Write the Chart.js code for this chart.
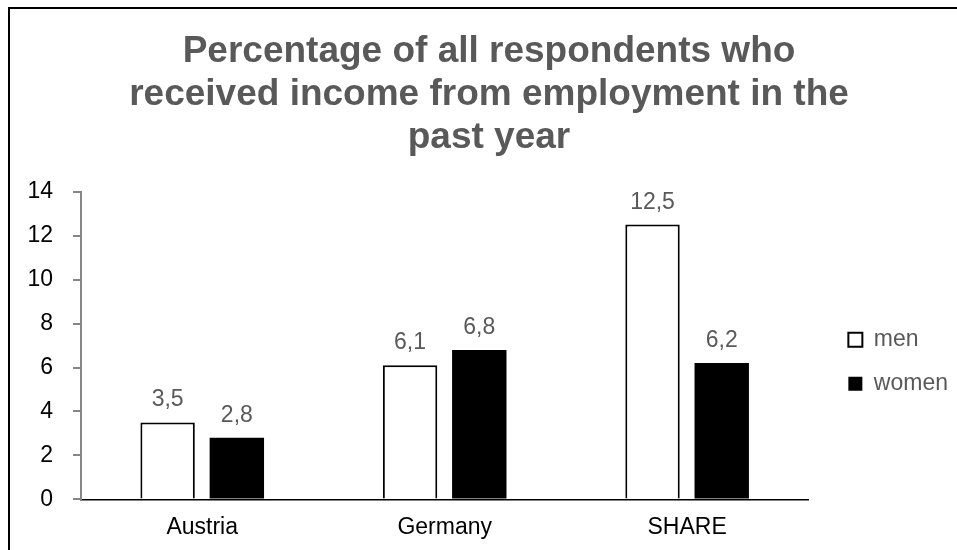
<!DOCTYPE html>
<html>
<head>
<meta charset="utf-8">
<script src="https://cdn.jsdelivr.net/npm/chart.js@4.4.1/dist/chart.umd.min.js"></script>
<style>
  html, body { margin: 0; padding: 0; background: #fff; overflow: hidden; }
  #frame { position: absolute; left: 8px; top: 7px; width: 1000px; height: 620px; border: 2px solid #000; }
  #wrap { position: absolute; left: 0; top: 0; width: 957px; height: 550px; }
</style>
</head>
<body>
<div id="frame"></div>
<div id="wrap"><canvas id="chart"></canvas></div>
<script>
  // values
  var countries = ['Austria', 'Germany', 'SHARE'];
  var menValues = [3.5, 6.1, 12.5];
  var womenValues = [2.8, 6.8, 6.2];
  var yTicks = [0, 2, 4, 6, 8, 10, 12, 14];

  var FONT = "'Liberation Sans', Arial, sans-serif";
  var GREY = '#595959';

  // writes the value above each bar, with a decimal comma
  var valueLabels = {
    id: 'valueLabels',
    afterDatasetsDraw: function (chart) {
      var ctx = chart.ctx;
      ctx.save();
      ctx.fillStyle = GREY;
      ctx.font = '23px ' + FONT;
      ctx.textAlign = 'center';
      ctx.textBaseline = 'alphabetic';
      chart.data.datasets.forEach(function (ds, i) {
        chart.getDatasetMeta(i).data.forEach(function (bar, j) {
          var txt = Number(ds.data[j]).toFixed(1).replace('.', ',');
          ctx.fillText(txt, bar.x, bar.y - 16);
        });
      });
      ctx.restore();
    }
  };

  new Chart(document.getElementById('chart'), {
    type: 'bar',
    data: {
      labels: countries,
      datasets: [
        { label: 'men', data: menValues, backgroundColor: '#ffffff', borderColor: '#000000', borderWidth: 2 },
        { label: 'women', data: womenValues, backgroundColor: '#000000', borderColor: '#000000', borderWidth: 0 }
      ]
    },
    options: {
      responsive: true,
      maintainAspectRatio: false,
      animation: false,
      // the original chart sits inside a frame starting at x=9, so the title is centred a bit to the right
      layout: { padding: { left: 20, right: -1, top: 0, bottom: -5 } },
      categoryPercentage: 0.571,
      barPercentage: 0.786,
      plugins: {
        title: {
          display: true,
          text: ['Percentage of all respondents who', 'received income from employment in the', 'past year'],
          color: GREY,
          font: { family: FONT, size: 37, weight: 'bold', lineHeight: 1.15 },
          padding: { top: 31, bottom: 33 }
        },
        legend: {
          position: 'right',
          // empty legend title only pushes the two entries down
          title: { display: true, text: '', font: { size: 12 }, padding: { top: 154, bottom: 0 } },
          labels: {
            color: GREY,
            font: { family: FONT, size: 23 },
            boxWidth: 14,
            boxHeight: 14,
            padding: 21
          }
        },
        tooltip: { enabled: false }
      },
      scales: {
        x: {
          grid: { display: false, drawTicks: false },
          border: { color: '#000000', width: 1.5 },
          ticks: { color: '#000000', font: { family: FONT, size: 23 }, padding: 14 }
        },
        y: {
          min: 0,
          max: 14,
          afterBuildTicks: function (scale) {
            scale.ticks = yTicks.map(function (v) { return { value: v }; });
          },
          afterFit: function (scale) { scale.width = 61; },
          grid: { drawOnChartArea: false, drawTicks: true, tickLength: 8, color: '#868686', lineWidth: 2 },
          border: { color: '#868686', width: 2 },
          ticks: { color: '#000000', font: { family: FONT, size: 23 }, padding: 20 }
        },
        // empty right-hand scale, only keeps the gap between plot and legend
        gap: {
          position: 'right',
          grid: { display: false, drawTicks: false },
          border: { display: false },
          ticks: { display: false },
          afterFit: function (scale) { scale.width = 19; }
        }
      }
    },
    plugins: [valueLabels]
  });
</script>
</body>
</html>
